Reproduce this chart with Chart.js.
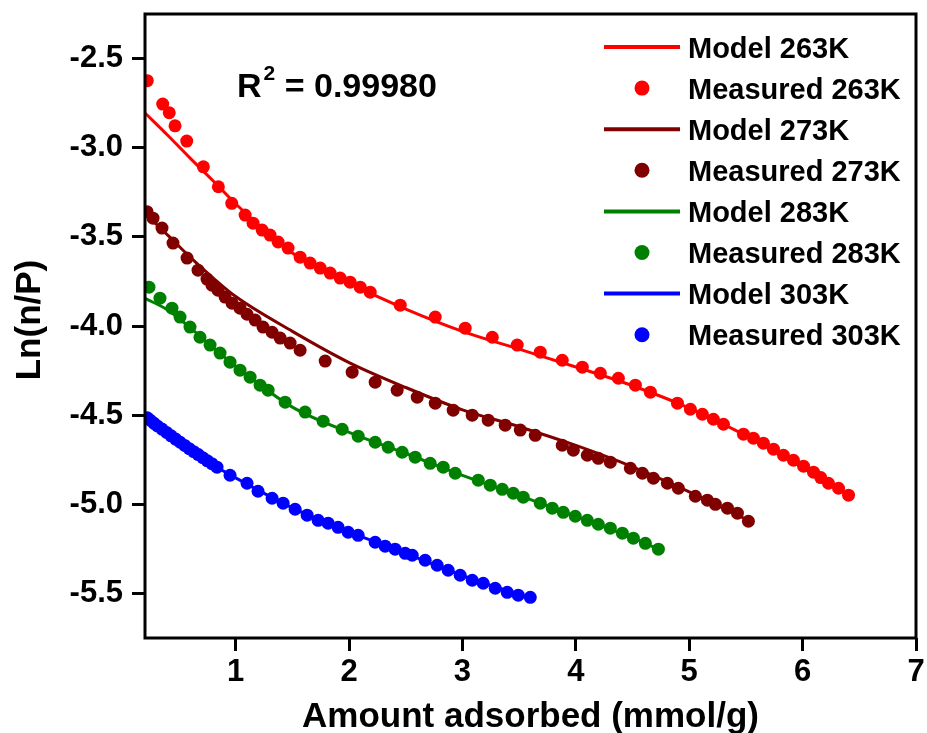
<!DOCTYPE html>
<html>
<head>
<meta charset="utf-8">
<script src="https://cdn.jsdelivr.net/npm/chart.js@4/dist/chart.umd.min.js"></script>
<style>
  html, body { margin: 0; padding: 0; background: #ffffff; }
  canvas { display: block; }
</style>
</head>
<body>
<canvas id="chart" width="927" height="733"></canvas>
<script>
// Axis ticks
const xTickValues = [1, 2, 3, 4, 5, 6, 7];
const yTickValues = [-5.5, -5.0, -4.5, -4.0, -3.5, -3.0, -2.5];

// Series names
const seriesNames = ['Model 263K', 'Measured 263K', 'Model 273K', 'Measured 273K',
                     'Model 283K', 'Measured 283K', 'Model 303K', 'Measured 303K'];

// Measured Ln(n/P) vs amount adsorbed (mmol/g)
const meas263X = [0.22, 0.356, 0.414, 0.465, 0.568, 0.715, 0.847, 0.965, 1.083, 1.153, 1.233, 1.303, 1.374, 1.462, 1.568, 1.656, 1.745, 1.833, 1.921, 2.009, 2.098, 2.186, 2.451, 2.760, 3.024, 3.263, 3.483, 3.686, 3.880, 4.057, 4.216, 4.375, 4.525, 4.657, 4.896, 5.010, 5.116, 5.213, 5.302, 5.478, 5.566, 5.654, 5.743, 5.831, 5.919, 6.008, 6.096, 6.160, 6.228, 6.317, 6.405];
const meas263Y = [-2.624, -2.755, -2.804, -2.877, -2.963, -3.107, -3.219, -3.312, -3.378, -3.423, -3.462, -3.490, -3.529, -3.563, -3.614, -3.647, -3.675, -3.703, -3.731, -3.754, -3.782, -3.810, -3.883, -3.950, -4.012, -4.063, -4.107, -4.147, -4.192, -4.231, -4.265, -4.293, -4.332, -4.371, -4.433, -4.467, -4.495, -4.523, -4.551, -4.607, -4.629, -4.657, -4.691, -4.725, -4.753, -4.786, -4.820, -4.850, -4.882, -4.910, -4.949];

const meas273X = [0.218, 0.271, 0.350, 0.447, 0.571, 0.668, 0.747, 0.791, 0.844, 0.906, 0.968, 1.038, 1.100, 1.171, 1.241, 1.321, 1.392, 1.480, 1.568, 1.789, 2.027, 2.230, 2.424, 2.601, 2.760, 2.918, 3.086, 3.227, 3.377, 3.510, 3.642, 3.880, 3.978, 4.101, 4.198, 4.304, 4.481, 4.587, 4.684, 4.807, 4.904, 5.054, 5.160, 5.231, 5.337, 5.425, 5.522];
const meas273Y = [-3.359, -3.395, -3.451, -3.535, -3.619, -3.687, -3.737, -3.771, -3.799, -3.838, -3.872, -3.900, -3.934, -3.967, -4.006, -4.035, -4.068, -4.096, -4.136, -4.197, -4.259, -4.315, -4.360, -4.399, -4.433, -4.472, -4.500, -4.528, -4.556, -4.584, -4.613, -4.669, -4.697, -4.725, -4.742, -4.764, -4.798, -4.826, -4.854, -4.882, -4.910, -4.955, -4.977, -5.000, -5.022, -5.050, -5.095];

const meas283X = [0.235, 0.332, 0.438, 0.509, 0.597, 0.685, 0.774, 0.862, 0.950, 1.038, 1.127, 1.215, 1.286, 1.436, 1.612, 1.771, 1.939, 2.080, 2.230, 2.345, 2.468, 2.583, 2.715, 2.830, 2.936, 3.139, 3.245, 3.351, 3.448, 3.536, 3.686, 3.792, 3.889, 3.995, 4.101, 4.198, 4.304, 4.410, 4.507, 4.613, 4.728];
const meas283Y = [-3.782, -3.844, -3.900, -3.950, -4.006, -4.063, -4.107, -4.152, -4.203, -4.248, -4.287, -4.332, -4.360, -4.427, -4.483, -4.534, -4.579, -4.618, -4.652, -4.680, -4.708, -4.736, -4.770, -4.792, -4.826, -4.865, -4.893, -4.916, -4.938, -4.960, -4.994, -5.022, -5.045, -5.067, -5.090, -5.112, -5.134, -5.162, -5.190, -5.219, -5.252];

const meas303X = [0.22, 0.25, 0.28, 0.31, 0.35, 0.39, 0.43, 0.47, 0.51, 0.55, 0.59, 0.63, 0.67, 0.71, 0.75, 0.79, 0.835, 0.950, 1.100, 1.197, 1.321, 1.418, 1.524, 1.630, 1.727, 1.815, 1.903, 1.992, 2.080, 2.230, 2.318, 2.406, 2.495, 2.557, 2.671, 2.777, 2.874, 2.980, 3.086, 3.183, 3.289, 3.395, 3.492, 3.598];
const meas303Y = [-4.515, -4.530, -4.546, -4.561, -4.578, -4.597, -4.616, -4.634, -4.652, -4.670, -4.688, -4.705, -4.721, -4.739, -4.756, -4.772, -4.792, -4.837, -4.882, -4.927, -4.966, -4.994, -5.028, -5.061, -5.090, -5.106, -5.129, -5.157, -5.174, -5.213, -5.235, -5.252, -5.275, -5.286, -5.314, -5.342, -5.370, -5.398, -5.426, -5.443, -5.471, -5.494, -5.510, -5.522];

// Model curves
const model263X = [0.2, 0.4, 0.6, 0.8, 1.0, 1.5, 2.0, 2.5, 3.0, 3.5, 4.0, 4.5, 5.0, 5.5, 6.0, 6.4];
const model263Y = [-2.805, -2.930, -3.060, -3.185, -3.315, -3.590, -3.760, -3.905, -4.030, -4.130, -4.230, -4.335, -4.460, -4.615, -4.795, -4.950];

const model273X = [0.2, 0.4, 0.6, 0.8, 1.0, 1.5, 2.0, 2.5, 3.0, 3.5, 4.0, 4.5, 5.0, 5.52];
const model273Y = [-3.370, -3.490, -3.615, -3.730, -3.835, -4.030, -4.205, -4.345, -4.470, -4.565, -4.670, -4.790, -4.930, -5.090];

const model283X = [0.2, 0.4, 0.6, 0.8, 1.0, 1.5, 2.0, 2.5, 3.0, 3.5, 4.0, 4.5, 4.73];
const model283Y = [-3.845, -3.910, -4.010, -4.120, -4.225, -4.455, -4.597, -4.715, -4.838, -4.950, -5.068, -5.188, -5.252];

const model303X = [0.2, 0.4, 0.6, 0.8, 1.0, 1.5, 2.0, 2.5, 3.0, 3.5, 3.6];
const model303Y = [-4.505, -4.600, -4.690, -4.778, -4.852, -5.020, -5.155, -5.275, -5.400, -5.505, -5.522];

const colors = ['#ff0000', '#800000', '#008000', '#0000ff'];
const FONT = '"Liberation Sans", Arial, Helvetica, sans-serif';

const pts = (xs, ys) => xs.map((x, i) => ({ x: x, y: ys[i] }));

function modelSet(label, xs, ys, color) {
  return {
    label: label, data: pts(xs, ys), showLine: true, borderColor: color,
    backgroundColor: color, borderWidth: 3, pointRadius: 0,
    cubicInterpolationMode: 'monotone', fill: false
  };
}
function measuredSet(label, xs, ys, color) {
  return {
    label: label, data: pts(xs, ys), showLine: false, borderColor: color,
    backgroundColor: color, borderWidth: 0, pointRadius: 6.5, pointStyle: 'circle'
  };
}

const datasets = [
  modelSet(seriesNames[0], model263X, model263Y, colors[0]),
  measuredSet(seriesNames[1], meas263X, meas263Y, colors[0]),
  modelSet(seriesNames[2], model273X, model273Y, colors[1]),
  measuredSet(seriesNames[3], meas273X, meas273Y, colors[1]),
  modelSet(seriesNames[4], model283X, model283Y, colors[2]),
  measuredSet(seriesNames[5], meas283X, meas283Y, colors[2]),
  modelSet(seriesNames[6], model303X, model303Y, colors[3]),
  measuredSet(seriesNames[7], meas303X, meas303Y, colors[3])
];

// Frame, axis titles, R² note and legend
const decorations = {
  id: 'decorations',
  afterDatasetsDraw(chart) {
    const { ctx, chartArea: a } = chart;
    ctx.save();
    ctx.strokeStyle = '#000';
    ctx.lineWidth = 3;
    ctx.strokeRect(a.left, a.top, a.right - a.left, a.bottom - a.top);
    ctx.restore();
  },
  afterDraw(chart) {
    const { ctx, chartArea: a } = chart;
    ctx.save();
    ctx.fillStyle = '#000';

    // x axis title
    ctx.font = 'bold 35px ' + FONT;
    ctx.textAlign = 'center';
    ctx.textBaseline = 'alphabetic';
    ctx.fillText('Amount adsorbed (mmol/g)', (a.left + a.right) / 2, 727);

    // y axis title
    ctx.save();
    ctx.translate(40, 320);
    ctx.rotate(-Math.PI / 2);
    ctx.fillText('Ln(n/P)', 0, 0);
    ctx.restore();

    // R² note
    ctx.textAlign = 'left';
    ctx.font = 'bold 34px ' + FONT;
    let x = 237;
    ctx.fillText('R', x, 97);
    x += ctx.measureText('R').width + 2;
    ctx.font = 'bold 21px ' + FONT;
    ctx.fillText('2', x, 80);
    x += ctx.measureText('2').width;
    ctx.font = 'bold 34px ' + FONT;
    ctx.fillText(' = 0.99980', x, 97);

    // legend
    ctx.font = 'bold 29px ' + FONT;
    chart.data.datasets.forEach((ds, i) => {
      const cy = 47 + i * 41.1;
      if (ds.showLine) {
        ctx.strokeStyle = ds.borderColor;
        ctx.lineWidth = 4;
        ctx.beginPath();
        ctx.moveTo(604, cy);
        ctx.lineTo(680, cy);
        ctx.stroke();
      } else {
        ctx.fillStyle = ds.backgroundColor;
        ctx.beginPath();
        ctx.arc(642, cy, 7.5, 0, Math.PI * 2);
        ctx.fill();
      }
      ctx.fillStyle = '#000';
      ctx.fillText(ds.label, 688, cy + 10.5);
    });
    ctx.restore();
  }
};

new Chart(document.getElementById('chart'), {
  type: 'scatter',
  data: { datasets: datasets },
  options: {
    responsive: false,
    animation: false,
    devicePixelRatio: 1,
    events: [],
    layout: { padding: { top: 14, right: 11, left: 0, bottom: 0 } },
    plugins: { legend: { display: false }, tooltip: { enabled: false } },
    scales: {
      x: {
        type: 'linear', min: 0.2, max: 7,
        afterBuildTicks: s => { s.ticks = xTickValues.map(v => ({ value: v })); },
        afterFit: s => { s.height = 95; s.paddingLeft = 0; s.paddingRight = 0; },
        border: { display: false },
        grid: { display: true, drawOnChartArea: false, drawTicks: true, tickLength: 13, tickWidth: 3, tickColor: '#000' },
        ticks: { color: '#000', padding: 3, maxRotation: 0, font: { family: FONT, size: 31, weight: 'bold' },
                 callback: v => String(v) }
      },
      y: {
        type: 'linear', min: -5.75, max: -2.25,
        afterBuildTicks: s => { s.ticks = yTickValues.map(v => ({ value: v })); },
        afterFit: s => { s.width = 145; s.paddingTop = 0; s.paddingBottom = 0; },
        border: { display: false },
        grid: { display: true, drawOnChartArea: false, drawTicks: true, tickLength: 13, tickWidth: 3, tickColor: '#000' },
        ticks: { color: '#000', padding: 9, font: { family: FONT, size: 31, weight: 'bold' },
                 callback: v => Number(v).toFixed(1) }
      }
    }
  },
  plugins: [decorations]
});
</script>
</body>
</html>
